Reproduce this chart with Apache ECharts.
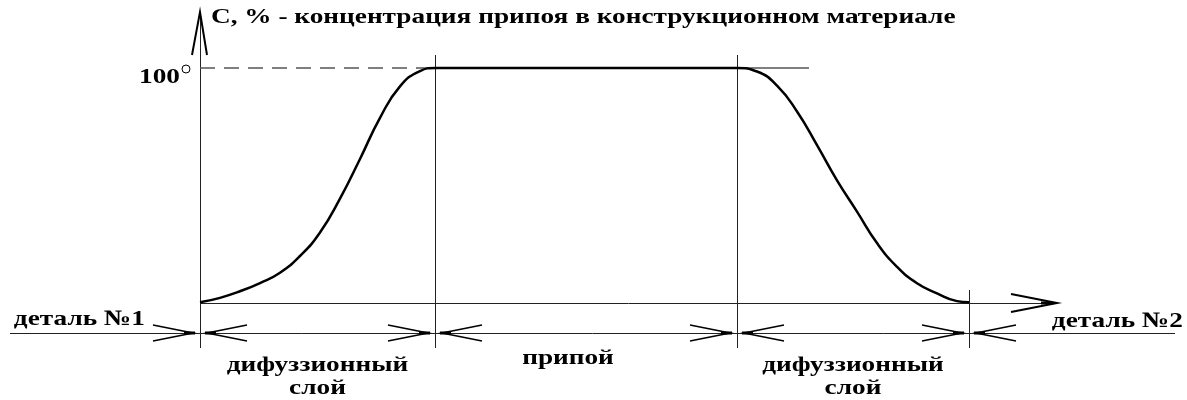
<!DOCTYPE html>
<html>
<head>
<meta charset="utf-8">
<script src="https://cdn.jsdelivr.net/npm/echarts@6/dist/echarts.min.js"></script>
<style>
  html, body { margin: 0; background: #fff; }
  #chart { width: 1187px; height: 400px; }
</style>
</head>
<body>
<div id="chart"></div>
<script>
// границы зон по оси x (условные единицы длины от детали №1)
var zoneBorders = [0, 235, 537, 769];
var zoneNames = ['дифуззионный\nслой', 'припой', 'дифуззионный\nслой'];
var partNames = ['деталь №1', 'деталь №2'];
var axisTitle = 'C, % - концентрация припоя в конструкционном материале';
var yTickValue = 100;
var yTickLabel = '100';

// концентрация припоя: подъём в первом диффузионном слое
var riseX = [0, 20, 40, 60, 80, 100, 120, 140, 160, 180, 200, 220, 235];
var riseY = [0.3, 2.2, 5.0, 8.5, 12.9, 20, 30, 44.4, 61.3, 78.8, 92.2, 98.7, 100];
// спад во втором диффузионном слое
var fallX = [537, 557, 577, 597, 617, 637, 657, 677, 697, 717, 737, 757, 769];
var fallY = [100, 98.5, 92.5, 81.5, 67.2, 52.2, 38.9, 25.5, 15.4, 8.4, 4.1, 0.8, 0.3];

var curve = [];
riseX.forEach(function (x, i) { curve.push([x, riseY[i]]); });
fallX.forEach(function (x, i) { curve.push([x, fallY[i]]); });

// привязка осей к пикселям картинки
var W = 1187, H = 400;
var originPx = [200, 303], topPx = 68;
var pxPerUnitY = (originPx[1] - topPx) / yTickValue;
var xAxisEnd = 857;

var TX = 1.24; // растяжка шрифта по горизонтали
var INK = '#000', LINE = '#222', GREY = '#555';
var SERIF = '"Times New Roman", "Liberation Serif", Times, "DejaVu Serif", serif';

// тонкие линии ставим на середину пикселя, чтобы не размывались
function px(v) { return Math.round(v) + 0.5; }
function seg(x1, y1, x2, y2, w, c, dash) {
  if (!w || w === 1) {
    if (x1 === x2) { x1 = x2 = px(x1); }
    if (y1 === y2) { y1 = y2 = px(y1); }
  }
  return {
    type: 'line',
    shape: { x1: x1, y1: y1, x2: x2, y2: y2 },
    style: { stroke: c || LINE, lineWidth: w || 1, lineDash: dash || null }
  };
}
function poly(pts, w, c) {
  return { type: 'polyline', shape: { points: pts }, style: { stroke: c || INK, lineWidth: w || 1.5, fill: null } };
}
function txt(x, y, s, align) {
  return {
    type: 'text', x: x, y: y, scaleX: TX,
    style: {
      text: s, fill: INK,
      font: 'bold 22px ' + SERIF,
      textAlign: align || 'left', textVerticalAlign: 'middle', lineHeight: 23
    }
  };
}

function renderScheme(params, api) {
  var o = api.coord([0, 0]);
  var top = api.coord([0, yTickValue])[1];
  var bx = zoneBorders.map(function (b) { return api.coord([b, 0])[0]; });
  var endX = api.coord([xAxisEnd, 0])[0];
  var lineY = o[1] + 30;   // нижняя линия разметки зон
  var lowY = lineY + 15;
  var kids = [];

  // ось C
  kids.push(seg(o[0], 12, o[0], lowY));
  kids.push(poly([[o[0] - 8, 55], [o[0], 12], [o[0] + 7, 55]], 2));
  // ось x
  kids.push(seg(o[0], o[1], endX, o[1]));
  kids.push(poly([[endX - 46, o[1] - 9], [endX, o[1]], [endX - 46, o[1] + 9]], 2));
  kids.push(seg(endX - 16, o[1], endX - 4, o[1], 3, INK));

  // уровень 100 %
  kids.push(seg(o[0], top, bx[1], top, 1.5, GREY, [15, 9]));
  kids.push(seg(bx[1], top, bx[2] + 72, top, 1.5, GREY));

  // вертикальные границы зон
  kids.push(seg(bx[1], top - 13, bx[1], lowY));
  kids.push(seg(bx[2], top - 13, bx[2], lowY));
  kids.push(seg(bx[3], o[1] - 13, bx[3], lowY));

  // нижняя линия с размерными стрелками
  kids.push(seg(10, lineY, 1175, lineY));
  bx.forEach(function (b) {
    kids.push(poly([[b - 47, lineY - 8], [b - 7, lineY], [b - 47, lineY + 8]], 1.6));
    kids.push(poly([[b + 47, lineY - 8], [b + 7, lineY], [b + 47, lineY + 8]], 1.6));
    kids.push(seg(b - 16, lineY, b - 5, lineY, 3, INK));
    kids.push(seg(b + 5, lineY, b + 16, lineY, 3, INK));
  });

  // подписи
  kids.push(txt(o[0] + 11, 17, axisTitle, 'left'));
  kids.push(txt(o[0] - 20, top + 9, yTickLabel, 'right'));
  kids.push({ type: 'circle', shape: { cx: o[0] - 14, cy: top + 1, r: 4 }, style: { stroke: INK, lineWidth: 1, fill: null } });
  kids.push(txt(145, lineY - 14, partNames[0], 'right'));
  kids.push(txt(1183, lineY - 12, partNames[1], 'right'));
  for (var i = 0; i < zoneNames.length; i++) {
    var cx = (bx[i] + bx[i + 1]) / 2;
    var twoLines = zoneNames[i].indexOf('\n') > 0;
    var dy = twoLines ? 44 : 25;
    if (!twoLines) cx -= 18;
    kids.push(txt(cx, lineY + dy, zoneNames[i], 'center'));
  }
  return { type: 'group', children: kids };
}

var chart = echarts.init(document.getElementById('chart'));
chart.setOption({
  animation: false,
  backgroundColor: '#fff',
  grid: { left: 0, right: 0, top: 0, bottom: 0 },
  xAxis: { type: 'value', min: -originPx[0], max: W - originPx[0], show: false },
  yAxis: {
    type: 'value',
    min: -(H - originPx[1]) / pxPerUnitY,
    max: originPx[1] / pxPerUnitY,
    show: false
  },
  series: [
    {
      type: 'custom',
      renderItem: renderScheme,
      data: [[0, 0]],
      silent: true,
      clip: false
    },
    {
      type: 'line',
      data: curve,
      smooth: 0.5,
      symbol: 'none',
      lineStyle: { color: INK, width: 2.5 },
      silent: true,
      z: 3
    }
  ]
});
</script>
</body>
</html>
